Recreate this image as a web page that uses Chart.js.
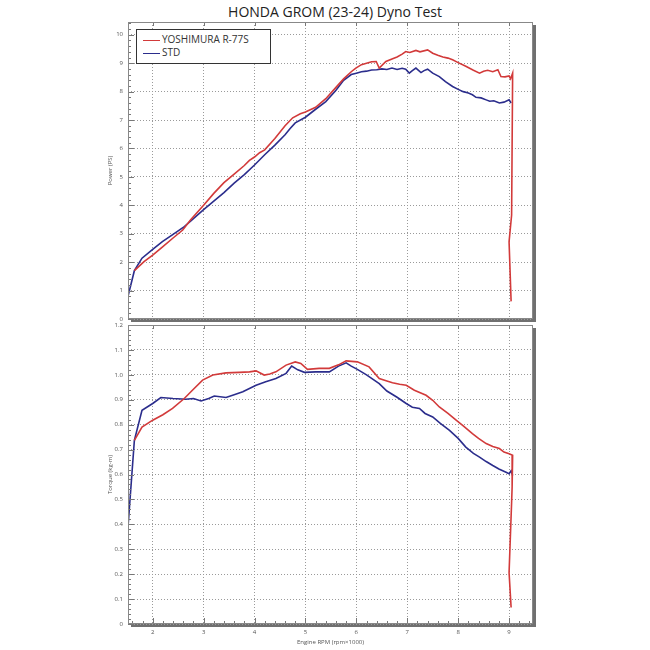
<!DOCTYPE html>
<html>
<head>
<meta charset="utf-8">
<title>HONDA GROM (23-24) Dyno Test</title>
<script src="https://cdn.jsdelivr.net/npm/chart.js@4.4.1/dist/chart.umd.min.js"></script>
<style>
  body { margin: 0; background: #fff; }
  #wrap { position: relative; width: 650px; height: 650px; overflow: hidden; }
  #title { position: absolute; left: 10px; top: 2px; width: 650px; text-align: center;
           font: 14px 'Open Sans', sans-serif; color: #222; line-height: 20px; }
  canvas { position: absolute; left: 0; }
  #powerChart { top: 0; }
  #torqueChart { top: 321px; }
  #legend { position: absolute; left: 136px; top: 29px; width: 133px; height: 30px;
            border: 1.5px solid #333; background: #fff; padding-top: 3px; box-sizing: content-box;
            font: 10px 'Open Sans', sans-serif; color: #333; }
  #legend div { height: 13px; line-height: 13px; white-space: nowrap; }
  #legend span { display: inline-block; width: 17px; height: 0; border-top: 1.5px solid;
                 vertical-align: middle; margin: 0 2px 0 6px; }
</style>
</head>
<body>
<div id="wrap">
  <div id="title">HONDA GROM (23-24) Dyno Test</div>
  <canvas id="powerChart" width="650" height="323"></canvas>
  <canvas id="torqueChart" width="650" height="329"></canvas>
  <div id="legend"></div>
</div>
<script>
// series names
const seriesNames = ['YOSHIMURA R-77S', 'STD'];

// axis ticks
const rpmTicks = [2, 3, 4, 5, 6, 7, 8, 9];
const powerTicks = [0, 1, 2, 3, 4, 5, 6, 7, 8, 9, 10];
const torqueTicks = [0, 0.1, 0.2, 0.3, 0.4, 0.5, 0.6, 0.7, 0.8, 0.9, 1.0, 1.1, 1.2];

// power (PS)
const yoshiPowerRpm = [1.64,1.83,2.0,2.2,2.4,2.59,2.75,3.0,3.2,3.4,3.6,3.8,3.9,4.0,4.1,4.2,4.4,4.6,4.75,4.9,5.0,5.2,5.4,5.6,5.75,5.9,5.99,6.1,6.2,6.3,6.39,6.45,6.58,6.7,6.8,6.9,6.97,7.05,7.17,7.25,7.4,7.5,7.6,7.7,7.8,7.89,8.0,8.15,8.3,8.42,8.5,8.58,8.68,8.78,8.84,8.92,9.0,9.03,9.07,9.05,9.0,9.04];
const yoshiPower = [1.70,2.02,2.25,2.55,2.85,3.13,3.50,4.00,4.42,4.80,5.10,5.40,5.58,5.70,5.85,5.95,6.35,6.80,7.08,7.22,7.28,7.45,7.75,8.15,8.45,8.70,8.83,8.95,9.00,9.05,9.06,8.83,9.06,9.15,9.22,9.32,9.41,9.38,9.45,9.40,9.47,9.35,9.28,9.22,9.18,9.12,9.02,8.89,8.75,8.65,8.72,8.75,8.70,8.77,8.53,8.52,8.55,8.45,8.65,3.66,2.72,0.62];
const stdPowerRpm = [1.51,1.64,1.79,2.0,2.19,2.4,2.6,2.75,3.0,3.2,3.4,3.6,3.8,4.0,4.2,4.4,4.6,4.7,4.8,5.0,5.2,5.4,5.6,5.75,5.9,6.0,6.1,6.2,6.3,6.4,6.5,6.6,6.7,6.8,6.9,6.97,7.04,7.1,7.17,7.27,7.33,7.4,7.5,7.63,7.75,7.89,8.0,8.1,8.2,8.28,8.35,8.45,8.55,8.62,8.7,8.81,8.9,9.0,9.04];
const stdPower = [0.76,1.70,2.14,2.45,2.72,2.98,3.22,3.45,3.85,4.15,4.45,4.78,5.08,5.42,5.78,6.12,6.48,6.70,6.90,7.10,7.38,7.65,8.05,8.40,8.60,8.65,8.70,8.72,8.76,8.77,8.80,8.78,8.83,8.78,8.82,8.79,8.65,8.74,8.83,8.67,8.74,8.79,8.65,8.53,8.35,8.18,8.08,8.00,7.95,7.89,7.80,7.78,7.71,7.66,7.68,7.60,7.63,7.71,7.60];

// torque (kg-m)
const yoshiTorqueRpm = [1.64,1.79,2.0,2.2,2.39,2.62,2.78,2.98,3.18,3.44,3.7,3.9,4.03,4.19,4.3,4.42,4.62,4.8,4.91,5.04,5.27,5.47,5.65,5.8,6.02,6.25,6.45,6.6,6.71,6.85,6.98,7.14,7.37,7.5,7.63,7.8,7.96,8.1,8.28,8.4,8.55,8.68,8.81,8.9,9.0,9.07,9.06,9.05,9.0,9.04];
const yoshiTorque = [0.737,0.79,0.818,0.84,0.865,0.905,0.938,0.979,0.999,1.008,1.01,1.012,1.016,0.999,1.003,1.012,1.039,1.052,1.046,1.022,1.026,1.026,1.04,1.056,1.052,1.032,0.985,0.975,0.968,0.962,0.958,0.938,0.918,0.898,0.871,0.845,0.818,0.795,0.764,0.745,0.724,0.712,0.704,0.69,0.683,0.677,0.55,0.489,0.207,0.066];
const stdTorqueRpm = [1.51,1.64,1.79,2.0,2.16,2.4,2.65,2.8,2.95,3.1,3.21,3.44,3.6,3.77,4.03,4.22,4.42,4.62,4.73,4.85,4.98,5.2,5.47,5.65,5.8,5.9,6.02,6.2,6.45,6.6,6.8,6.98,7.1,7.24,7.35,7.5,7.65,7.83,8.0,8.15,8.3,8.42,8.55,8.68,8.8,8.94,9.0,9.04,9.07];
const stdTorque = [0.375,0.737,0.858,0.885,0.909,0.905,0.902,0.905,0.895,0.905,0.915,0.909,0.92,0.932,0.958,0.972,0.985,1.006,1.035,1.02,1.01,1.012,1.012,1.035,1.048,1.035,1.022,1.0,0.965,0.935,0.91,0.885,0.87,0.865,0.845,0.831,0.805,0.777,0.745,0.71,0.685,0.67,0.652,0.636,0.622,0.609,0.603,0.615,0.596];

const colors = ['#d23a3a', '#2b2d8c'];
const tickFont = { family: 'Open Sans', size: 6 };
const labelColor = '#555';

const toPoints = (xs, ys) => xs.map((x, i) => ({ x: x, y: ys[i] }));

// frame, drop shadow and small tick marks around the plot area
const framePlugin = {
	id: 'frame',
	beforeDraw(chart) {
		const { ctx, chartArea: a } = chart;
		ctx.save();
		ctx.fillStyle = '#707070';
		ctx.fillRect(a.left + 3, a.top + 3, a.width, a.height);
		ctx.fillStyle = '#fff';
		ctx.fillRect(a.left, a.top, a.width, a.height);
		ctx.restore();
	},
	afterDatasetsDraw(chart, args, opts) {
		const { ctx, chartArea: a, scales } = chart;
		const x = scales.x, y = scales.y;
		ctx.save();
		ctx.strokeStyle = '#777';
		ctx.lineWidth = 1;
		ctx.beginPath();
		// y minor ticks
		const n = Math.round(y.max / opts.yMinor);
		for (let i = 0; i <= n; i++) {
			const v = i * opts.yMinor;
			const major = Math.abs(v / opts.yMajor - Math.round(v / opts.yMajor)) < 1e-6;
			const py = Math.round(y.getPixelForValue(v)) + 0.5;
			ctx.moveTo(a.left, py);
			ctx.lineTo(a.left + (major ? 6 : 3), py);
		}
		// x ticks
		const i0 = Math.ceil(x.min / 0.2), i1 = Math.floor(x.max / 0.2);
		for (let i = i0; i <= i1; i++) {
			const v = i * 0.2;
			const major = Math.abs(v - Math.round(v)) < 1e-6;
			const px = Math.round(x.getPixelForValue(v)) + 0.5;
			if (opts.bottomTicks) {
				ctx.moveTo(px, a.bottom);
				ctx.lineTo(px, a.bottom - (major ? 6 : 3));
			}
			if (major) {
				ctx.moveTo(px, a.top);
				ctx.lineTo(px, a.top + 4);
			}
		}
		ctx.stroke();
		ctx.strokeStyle = '#888';
		ctx.strokeRect(a.left + 0.5, a.top + 0.5, a.width - 1, a.height - 1);
		ctx.restore();
	}
};

function dynoChart(canvasId, cfg) {
	return new Chart(document.getElementById(canvasId), {
		type: 'line',
		data: {
			datasets: [
				{ label: seriesNames[0], data: toPoints(cfg.redX, cfg.redY), borderColor: colors[0] },
				{ label: seriesNames[1], data: toPoints(cfg.blueX, cfg.blueY), borderColor: colors[1] },
			],
		},
		options: {
			responsive: false,
			animation: false,
			layout: { padding: cfg.padding },
			elements: {
				point: { radius: 0 },
				line: { borderWidth: 1.6, tension: 0, fill: false },
			},
			plugins: {
				legend: { display: false },
				tooltip: { enabled: false },
				frame: { yMinor: cfg.yMinor, yMajor: cfg.yMajor, bottomTicks: cfg.showX },
			},
			scales: {
				x: {
					type: 'linear',
					min: 1.515,
					max: 9.47,
					afterBuildTicks: (s) => { s.ticks = rpmTicks.map((v) => ({ value: v })); },
					afterFit: (s) => { s.height = cfg.xHeight; },
					grid: { color: '#9a9a9a', drawTicks: false },
					border: { display: false, dash: [1, 2] },
					ticks: { display: cfg.showX, padding: 5, color: labelColor, font: tickFont },
					title: {
						display: cfg.showX,
						text: 'Engine RPM (rpm×1000)',
						color: labelColor,
						font: tickFont,
						padding: { top: 0, bottom: 0 },
					},
				},
				y: {
					min: 0,
					max: cfg.yMax,
					afterBuildTicks: (s) => { s.ticks = cfg.yTicks.map((v) => ({ value: v })); },
					afterFit: (s) => { s.width = 24; },
					// invisible tick marks keep the labels off the axis without extra top/bottom padding
					grid: { color: '#9a9a9a', drawTicks: true, tickLength: 5, tickColor: 'rgba(0,0,0,0)' },
					border: { display: false, dash: [1, 2] },
					ticks: { padding: 0, color: labelColor, font: tickFont, callback: cfg.fmt },
					title: {
						display: true,
						text: cfg.yTitle,
						color: labelColor,
						font: tickFont,
						padding: { top: cfg.titlePad, bottom: 0 },
					},
				},
			},
		},
		plugins: [framePlugin],
	});
}

const powerChart = dynoChart('powerChart', {
	redX: yoshiPowerRpm, redY: yoshiPower,
	blueX: stdPowerRpm, blueY: stdPower,
	yMax: 10.45, yTicks: powerTicks, yMinor: 0.2, yMajor: 1,
	yTitle: 'Power (PS)', fmt: (v) => String(v), titlePad: 3,
	showX: false, xHeight: 4,
	padding: { left: 104, right: 117, top: 22, bottom: 0 },
});

dynoChart('torqueChart', {
	redX: yoshiTorqueRpm, redY: yoshiTorque,
	blueX: stdTorqueRpm, blueY: stdTorque,
	yMax: 1.2, yTicks: torqueTicks, yMinor: 0.02, yMajor: 0.1,
	yTitle: 'Torque (kg-m)', fmt: (v) => (v === 0 ? '0' : v.toFixed(1)), titlePad: 3,
	showX: true, xHeight: 22,
	padding: { left: 104, right: 117, top: 4, bottom: 4 },
});

// html legend built from the datasets
const legendBox = document.getElementById('legend');
powerChart.data.datasets.forEach((ds) => {
	const row = document.createElement('div');
	const line = document.createElement('span');
	line.style.borderColor = ds.borderColor;
	row.appendChild(line);
	row.appendChild(document.createTextNode(ds.label));
	legendBox.appendChild(row);
});
</script>
</body>
</html>
